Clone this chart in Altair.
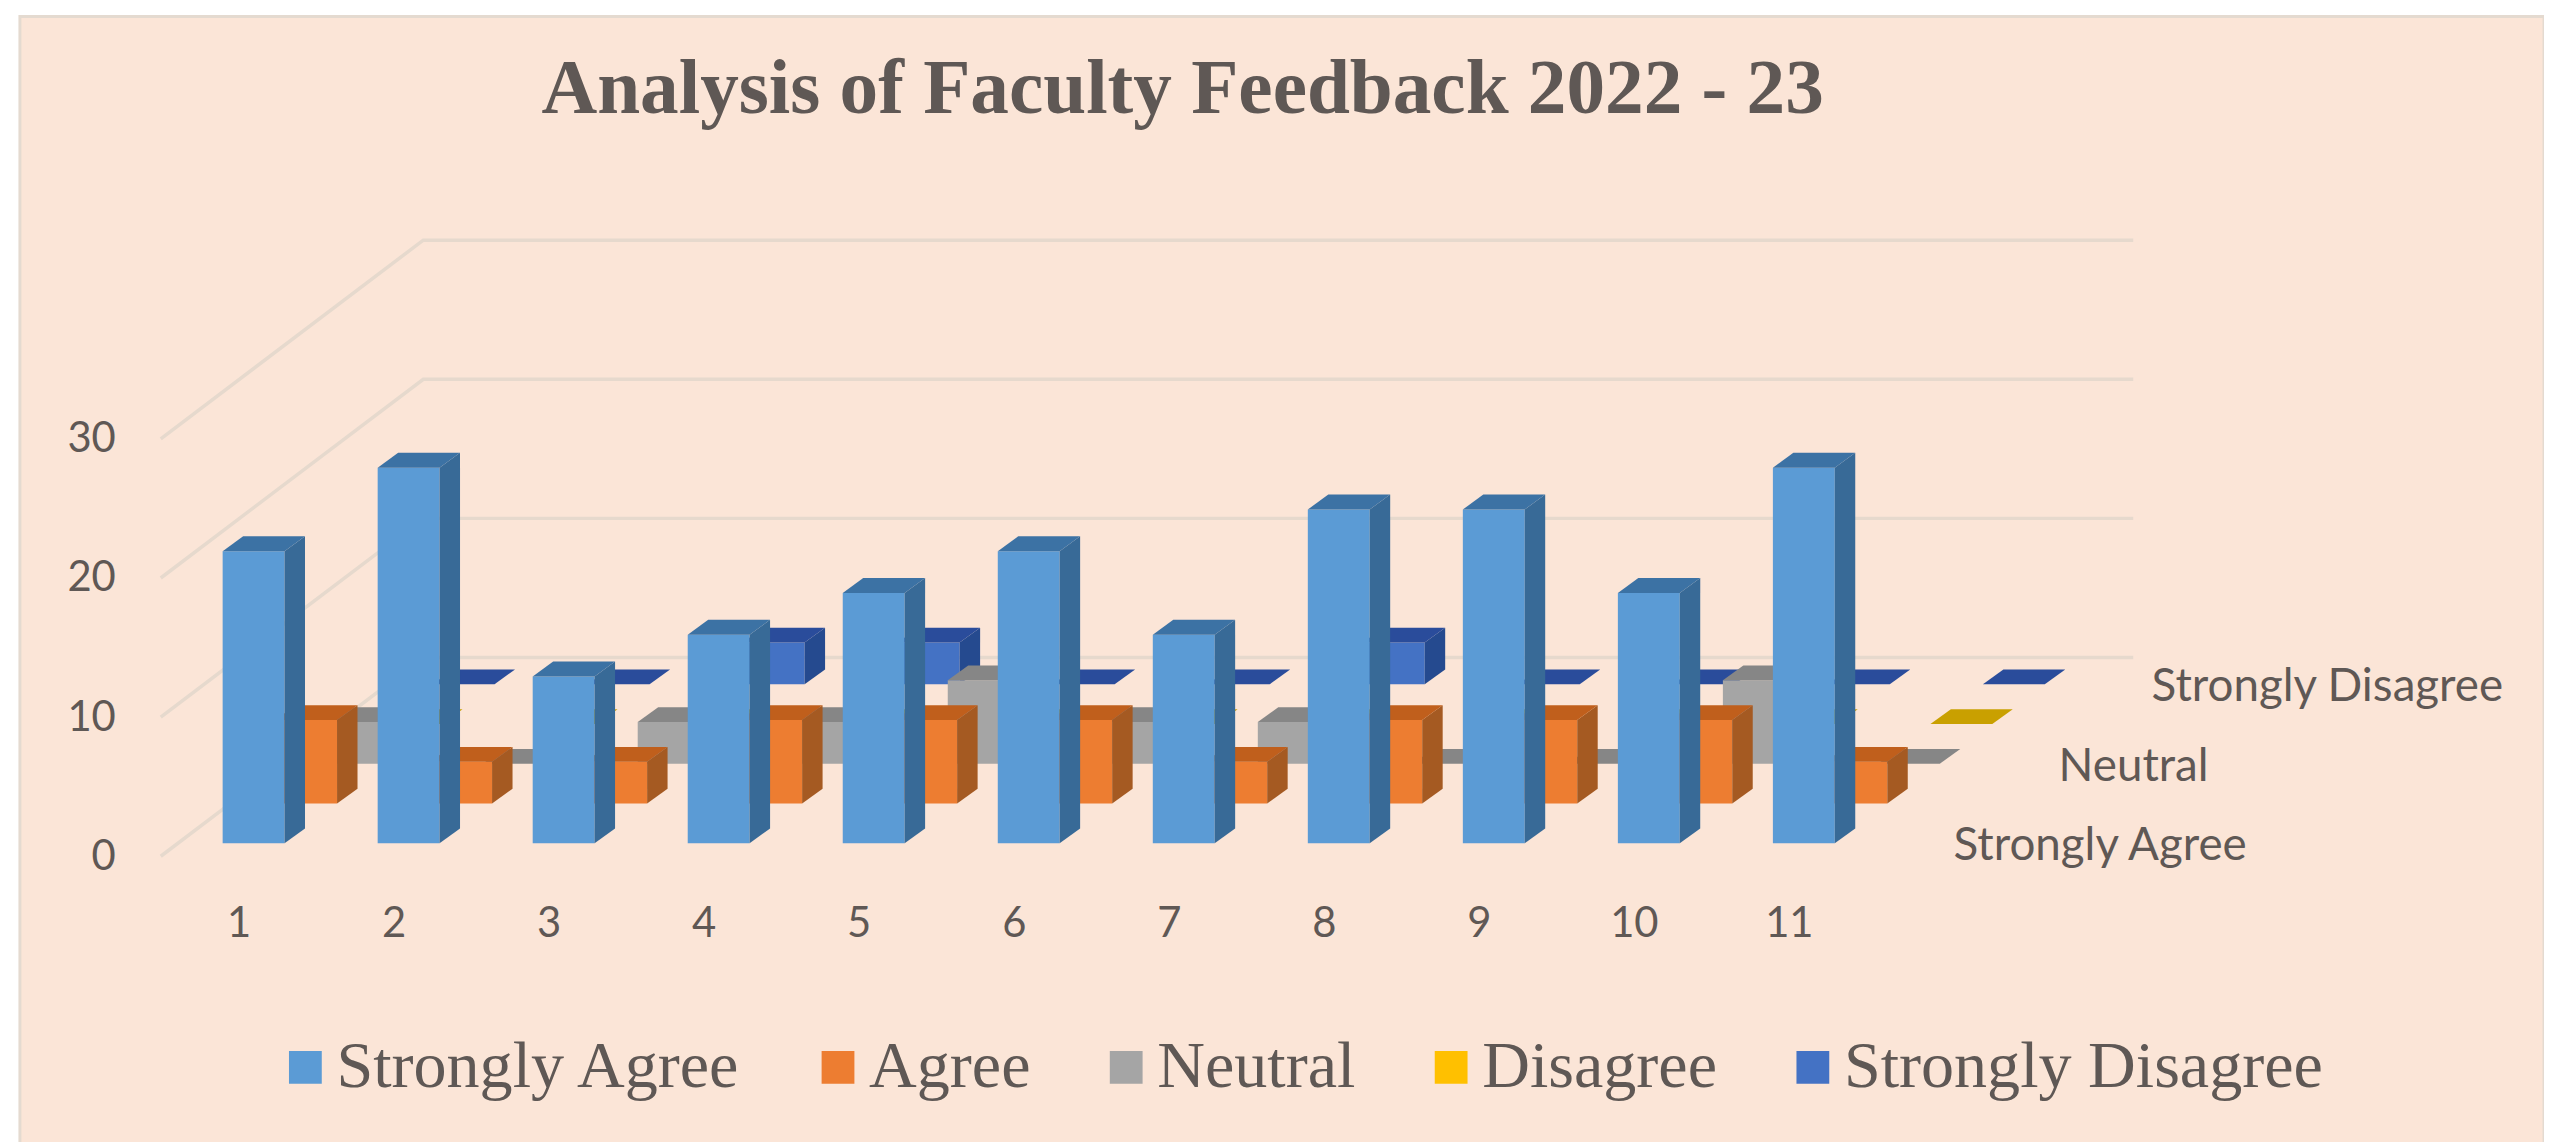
import altair as alt
import pandas as pd

# ---- values
questions = [1, 2, 3, 4, 5, 6, 7, 8, 9, 10, 11]
series_names = ["Strongly Agree", "Agree", "Neutral", "Disagree", "Strongly Disagree"]
strongly_agree = [21, 27, 12, 15, 18, 21, 15, 24, 24, 18, 27]
agree = [6, 3, 3, 6, 6, 6, 3, 6, 6, 6, 3]
neutral = [3, 0, 3, 3, 6, 3, 3, 0, 0, 6, 0]
disagree = [0, 0, 0, 0, 0, 0, 0, 0, 0, 0, 0]
strongly_disagree = [0, 0, 3, 3, 0, 0, 3, 0, 0, 0, 0]
all_series = [strongly_agree, agree, neutral, disagree, strongly_disagree]
depth_labels = ["Strongly Agree", "Neutral", "Strongly Disagree"]
depth_label_rows = [0, 2, 4]
depth_label_nudge = [0, 0, -12]
grid_levels = [0, 10, 20, 30]

front_colors = ["#5B9BD5", "#ED7D31", "#A5A5A5", "#FFC000", "#4472C4"]
side_colors = ["#386A97", "#A55A22", "#787878", "#B38800", "#254A8F"]
top_colors = ["#3C72A4", "#C05F1C", "#868686", "#C9A000", "#2A4C9B"]

TEXT = "#5F5855"
SANS = "Lato"
SERIF = "Liberation Serif"

# ---- projection of the pseudo-3D box, in scale units
W, H = 2540, 1137
FIT = 0.9955                        # the overflowing page comes back slightly narrower
PX_X, PX_Y = 155.3, 14.0            # pixels per category / per value
ORIGIN_X, ORIGIN_Y = 20, 13         # plot origin on the page
LABEL1_X, ZERO_Y = 239, 858         # page position of category 1 / value 0
BAR_L = -16 / PX_X
BAR_W = 62 / PX_X
D_X, D_Y = 20.5 / PX_X, 15 / PX_Y   # depth of one bar
STEP_X, STEP_Y = 52.6 / PX_X, 40 / PX_Y  # one series further back
BASE_Y = 13 / PX_Y

x_dom = [
    1 - (LABEL1_X / FIT - ORIGIN_X) / (PX_X / FIT),
    1 + (ORIGIN_X + W - LABEL1_X / FIT) / (PX_X / FIT),
]
y_dom = [-(ORIGIN_Y + H - ZERO_Y) / PX_Y, (ZERO_Y - ORIGIN_Y) / PX_Y]
xs = alt.Scale(domain=x_dom, nice=False, zero=False)
ys = alt.Scale(domain=y_dom, nice=False, zero=False)

x_axis = alt.Axis(
    values=questions, format="d", domain=False, ticks=False, grid=False, title=None,
    labelFont=SANS, labelFontSize=42, labelColor=TEXT, labelBaseline="middle",
    labelPadding=ZERO_Y + 68 - (ORIGIN_Y + H), labelOverlap=False, labelFlush=False, labelBound=False,
)
y_axis = alt.Axis(
    values=grid_levels, format="d", domain=False, ticks=False, grid=False, title=None,
    labelFont=SANS, labelFontSize=42, labelColor=TEXT, labelAlign="right",
    labelPadding=-96, labelOverlap=False, labelFlush=False, labelBound=False,
)


def X(f):
    return alt.X(f, type="quantitative", scale=xs, axis=x_axis)


def Y(f):
    return alt.Y(f, type="quantitative", scale=ys, axis=y_axis)


# ---- back wall grid
WALL_X = (161 - LABEL1_X) / PX_X + 1
WALL_DX = 263 / PX_X
WALL_DY = 200 / PX_Y
WALL_R = (2137 - LABEL1_X) / PX_X + 1
grid_rows = []
for lv in grid_levels:
    grid_rows += [
        {"lv": lv, "x": WALL_X, "y": lv},
        {"lv": lv, "x": WALL_X + WALL_DX, "y": lv + WALL_DY},
        {"lv": lv, "x": WALL_R, "y": lv + WALL_DY},
    ]

layers = [
    alt.Chart(pd.DataFrame(grid_rows))
    .mark_line(color="#E6D9CD", strokeWidth=3.5)
    .encode(x=X("x"), y=Y("y"), detail="lv:N")
]

color_scale = alt.Scale(domain=series_names, range=front_colors)
legend = alt.Legend(
    orient="none", legendX=254, legendY=1024, direction="horizontal", columns=5,
    title=None, symbolType="square", symbolSize=1089, symbolStrokeWidth=0,
    labelFont=SERIF, labelFontSize=66.5, labelColor=TEXT, labelLimit=1000,
    labelOffset={"expr": "-2"}, columnPadding=63, symbolOffset=0,
)

for s in reversed(range(len(series_names))):
    base = BASE_Y + s * STEP_Y
    fr, sd, tp = [], [], []
    for q, v in zip(questions, all_series[s]):
        left = q + BAR_L + s * STEP_X
        right = left + BAR_W
        top = base + v
        fr.append({"name": series_names[s], "q": q, "v": v, "x": left, "x2": right, "y": base, "y2": top})
        if v > 0:
            sd.append({"q": q, "x": right, "y": base, "y2": top})
            sd.append({"q": q, "x": right + D_X, "y": base + D_Y, "y2": top + D_Y})
        tp.append({"q": q, "y": top, "x": left, "x2": right})
        tp.append({"q": q, "y": top + D_Y, "x": left + D_X, "x2": right + D_X})
    layers.append(
        alt.Chart(pd.DataFrame(fr)).mark_rect().encode(
            x=X("x"), x2="x2:Q", y=Y("y"), y2="y2:Q",
            color=alt.Color("name:N", scale=color_scale, legend=legend),
        )
    )
    if sd:
        layers.append(
            alt.Chart(pd.DataFrame(sd)).mark_area(color=side_colors[s]).encode(
                x=X("x"), y=Y("y"), y2="y2:Q", detail="q:N",
            )
        )
    layers.append(
        alt.Chart(pd.DataFrame(tp)).mark_area(color=top_colors[s], orient="horizontal").encode(
            y=Y("y"), x=X("x"), x2="x2:Q", detail="q:N",
        )
    )

# ---- labels of the depth axis
lab_rows = [
    {
        "t": t,
        "x": questions[-1] + BAR_L + (181 + n) / PX_X + r * STEP_X,
        "y": BASE_Y + r * STEP_Y - 3 / PX_Y,
    }
    for t, r, n in zip(depth_labels, depth_label_rows, depth_label_nudge)
]
layers.append(
    alt.Chart(pd.DataFrame(lab_rows))
    .mark_text(align="left", baseline="middle", font=SANS, fontSize=46, color=TEXT)
    .encode(x=X("x"), y=Y("y"), text="t:N")
)

chart = (
    alt.layer(*layers)
    .properties(
        width=W,
        height=H,
        padding={"left": 12, "top": 5, "right": 0, "bottom": 0},
        autosize=alt.AutoSizeParams(type="none"),
        background="#FFFFFF",
        title=alt.TitleParams(
            "Analysis of Faculty Feedback 2022 - 23",
            font=SERIF, fontSize=77.7, fontWeight="bold", color=TEXT,
            anchor="middle", frame="group", baseline="alphabetic",
            offset=0, dx=-100, dy=175,
        ),
    )
    .configure_view(fill="#FBE5D7", stroke="#E4DAD0", strokeWidth=3)
)

chart.save("out.html", embed_options={"renderer": "svg", "actions": False})
